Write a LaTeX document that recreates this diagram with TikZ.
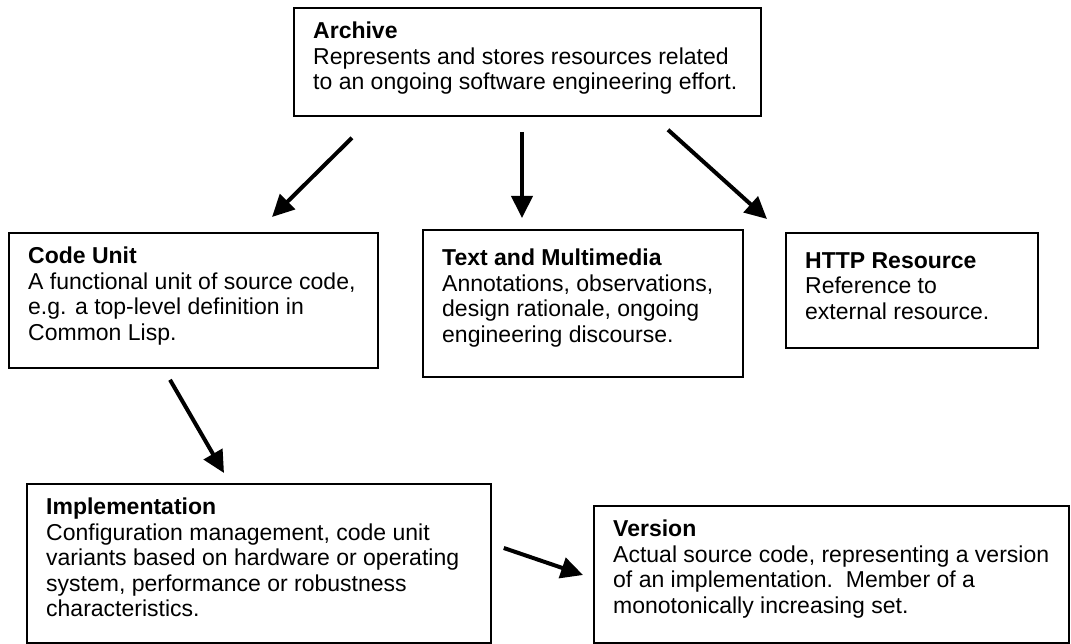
\documentclass[tikz,border=0pt]{standalone}
\usepackage{fontspec}
\setmainfont{Liberation Sans}
\usetikzlibrary{arrows.meta}
\begin{document}
\begin{tikzpicture}[x=1pt,y=-1pt,
  box/.style={draw=black, line width=1.8pt, anchor=north west, inner sep=0pt},
  txt/.style={anchor=north west, inner sep=0pt, align=left, font=\fontsize{23}{25.5}\selectfont},
  arr/.style={line width=4pt, -{Triangle[length=22pt,width=21pt]}}]
\useasboundingbox (0,0) rectangle (1071,644);
% boxes
\node[box, minimum width=467pt, minimum height=108pt] (archive) at (293,7) {};
\node[box, minimum width=369pt, minimum height=135pt] (codeunit) at (8,232) {};
\node[box, minimum width=320pt, minimum height=147pt] (textmm) at (422,229) {};
\node[box, minimum width=252pt, minimum height=115pt] (http) at (785,232) {};
\node[box, minimum width=464pt, minimum height=159pt] (impl) at (26,483) {};
\node[box, minimum width=475pt, minimum height=137pt] (version) at (593,505) {};
% texts
\node[txt] (archive-t) at ([shift={(20,15)}]archive.north west)
  {\textbf{Archive}\\Represents and stores resources related\\to an ongoing software engineering effort.};
\node[txt] (codeunit-t) at ([shift={(20,15)}]codeunit.north west)
  {\textbf{Code Unit}\\A functional unit of source code,\\e.g. a top-level definition in\\Common Lisp.};
\node[txt] (textmm-t) at ([shift={(20,20)}]textmm.north west)
  {\textbf{Text and Multimedia}\\Annotations, observations,\\design rationale, ongoing\\engineering discourse.};
\node[txt] (http-t) at ([shift={(20,20)}]http.north west)
  {\textbf{HTTP Resource}\\Reference to\\external resource.};
\node[txt] (impl-t) at ([shift={(20,15)}]impl.north west)
  {\textbf{Implementation}\\Configuration management, code unit\\variants based on hardware or operating\\system, performance or robustness\\characteristics.};
\node[txt] (version-t) at ([shift={(20,15)}]version.north west)
  {\textbf{Version}\\Actual source code, representing a version\\of an implementation.\ \ Member of a\\monotonically increasing set.};
% arrows
\draw[arr] ([shift={(59,21)}]archive.south west) -- ([shift={(264,-15)}]codeunit.north west);
\draw[arr] ([shift={(229,15)}]archive.south west) -- ([shift={(100,-11)}]textmm.north west);
\draw[arr] ([shift={(375,13)}]archive.south west) -- ([shift={(-18,-13)}]http.north west);
\draw[arr] ([shift={(162,11)}]codeunit.south west) -- ([shift={(198,-10)}]impl.north west);
\draw[arr] ([shift={(12,65)}]impl.north east) -- ([shift={(-10,70)}]version.north west);
\end{tikzpicture}
\end{document}
